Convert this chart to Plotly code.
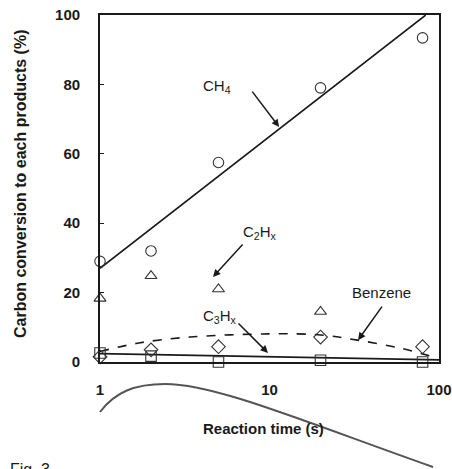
import numpy as np
import plotly.graph_objects as go

# ---- data ----
time_s = [1, 2, 5, 20, 80]
ch4 = [29, 32, 57.5, 79, 93.4]
c2hx = [18.3, 24.8, 21, 14.5, None]
benzene = [1.5, 3.5, 4.4, 7.2, 4.4]
c3hx = [2.6, 1.7, 0, 0.5, 0]

ch4_fit_x = [1, 83.5]
ch4_fit_y = [27, 100]
c3hx_fit_x = [1, 100]
c3hx_fit_y = [2.4, 0.6]
benz_curve_x = [1, 1.7, 3.4, 10, 20, 33, 59, 92]
benz_curve_y = [3, 5.5, 7.2, 8.1, 7.8, 6.3, 4, 1.5]

x_ticks = [1, 10, 100]
y_ticks = [0, 20, 40, 60, 80, 100]

W, H = 452, 469
ML, MR, MT, MB = 100, 13, 15, 107
FONT = "Liberation Sans, Arial, sans-serif"
INK = "#1a1a1a"

def px2paper(px, py):
    return (px - ML) / (W - ML - MR), (H - MB - py) / (H - MT - MB)

fig = go.Figure()

fig.add_trace(go.Scatter(x=ch4_fit_x, y=ch4_fit_y, mode="lines",
                         line=dict(color=INK, width=1.6), showlegend=False))
fig.add_trace(go.Scatter(x=c3hx_fit_x, y=c3hx_fit_y, mode="lines",
                         line=dict(color=INK, width=1.6), showlegend=False))
fig.add_trace(go.Scatter(x=benz_curve_x, y=benz_curve_y, mode="lines",
                         line=dict(color=INK, width=1.6, dash="dash", shape="spline"),
                         showlegend=False))

for ys, sym in [(ch4, "circle-open"), (c2hx, "triangle-up-open"),
                (benzene, "diamond-open"), (c3hx, "square-open")]:
    fig.add_trace(go.Scatter(x=time_s, y=ys, mode="markers", cliponaxis=False,
                             marker=dict(symbol=sym, size=10.5,
                                         line=dict(color="#333", width=1.1),
                                         color="#333"),
                             showlegend=False))

lab_font = dict(family=FONT, size=15, color=INK)
labels = [("CH<sub>4</sub>", 4.9, 79.5), ("C<sub>2</sub>H<sub>x</sub>", 8.8, 37.2),
          ("Benzene", 46, 19.9), ("C<sub>3</sub>H<sub>x</sub>", 5.1, 13)]
for t, x, y in labels:
    fig.add_annotation(x=np.log10(x), y=y, text=t, showarrow=False, font=lab_font)

arrows = [(11.4, 67.7, -28, -37), (4.64, 24.5, 31, -34),
          (33.3, 6.3, 25, -35), (9.8, 2.6, -31, -31)]
for x, y, ax, ay in arrows:
    fig.add_annotation(x=np.log10(x), y=y, ax=ax, ay=ay, text="", showarrow=True,
                       arrowhead=2, arrowsize=1, arrowwidth=1.5, arrowcolor=INK)

# axis titles
tx, ty = px2paper(263, 428)
fig.add_annotation(x=tx, y=ty, xref="paper", yref="paper", text="Reaction time (s)",
                   showarrow=False, xanchor="center", yanchor="middle",
                   font=dict(family=FONT, size=15, color=INK, weight="bold"))
yx, yy = px2paper(20, 184)
fig.add_annotation(x=yx, y=yy, xref="paper", yref="paper",
                   text="Carbon conversion to each products (%)", textangle=-90,
                   showarrow=False, xanchor="center", yanchor="middle",
                   font=dict(family=FONT, size=16, color=INK, weight="bold"))

# decorative scan artifact curve below the chart
p0 = px2paper(100, 412); c1 = px2paper(115, 392); c2 = px2paper(135, 384); p1 = px2paper(165, 384)
c3 = px2paper(215, 384); c4 = px2paper(300, 420); p2 = px2paper(433, 467)
path = (f"M {p0[0]},{p0[1]} C {c1[0]},{c1[1]} {c2[0]},{c2[1]} {p1[0]},{p1[1]} "
        f"C {c3[0]},{c3[1]} {c4[0]},{c4[1]} {p2[0]},{p2[1]}")
fig.add_shape(type="path", path=path, xref="paper", yref="paper",
              line=dict(color="#555", width=2))

fx, fy = px2paper(8, 459)
fig.add_annotation(x=fx, y=fy, xref="paper", yref="paper", text="Fig. 3",
                   showarrow=False, xanchor="left", yanchor="top",
                   font=dict(family=FONT, size=16, color=INK))

fig.update_xaxes(type="log", range=[0, 2], tickvals=x_ticks, automargin=False,
                 ticktext=[str(v) for v in x_ticks], showgrid=False, zeroline=False,
                 showline=True, mirror=True, linecolor=INK, linewidth=1.8,
                 ticks="", ticklabelstandoff=13, ticklabeloverflow="allow",
                 tickfont=dict(family=FONT, size=15, color=INK, weight="bold"))
fig.update_yaxes(range=[0, 100], tickvals=y_ticks, showgrid=False, zeroline=False,
                 showline=True, mirror=True, linecolor=INK, linewidth=1.8, automargin=False,
                 ticks="inside", ticklen=4, tickcolor=INK, ticklabelstandoff=15,
                 ticklabeloverflow="allow",
                 tickfont=dict(family=FONT, size=15, color=INK, weight="bold"))

fig.update_layout(width=W, height=H, margin=dict(l=ML, r=MR, t=MT, b=MB),
                  plot_bgcolor="white", paper_bgcolor="white", showlegend=False)

fig.write_html("out.html", config={"displayModeBar": False},
               post_script="document.body.style.margin='0';")
